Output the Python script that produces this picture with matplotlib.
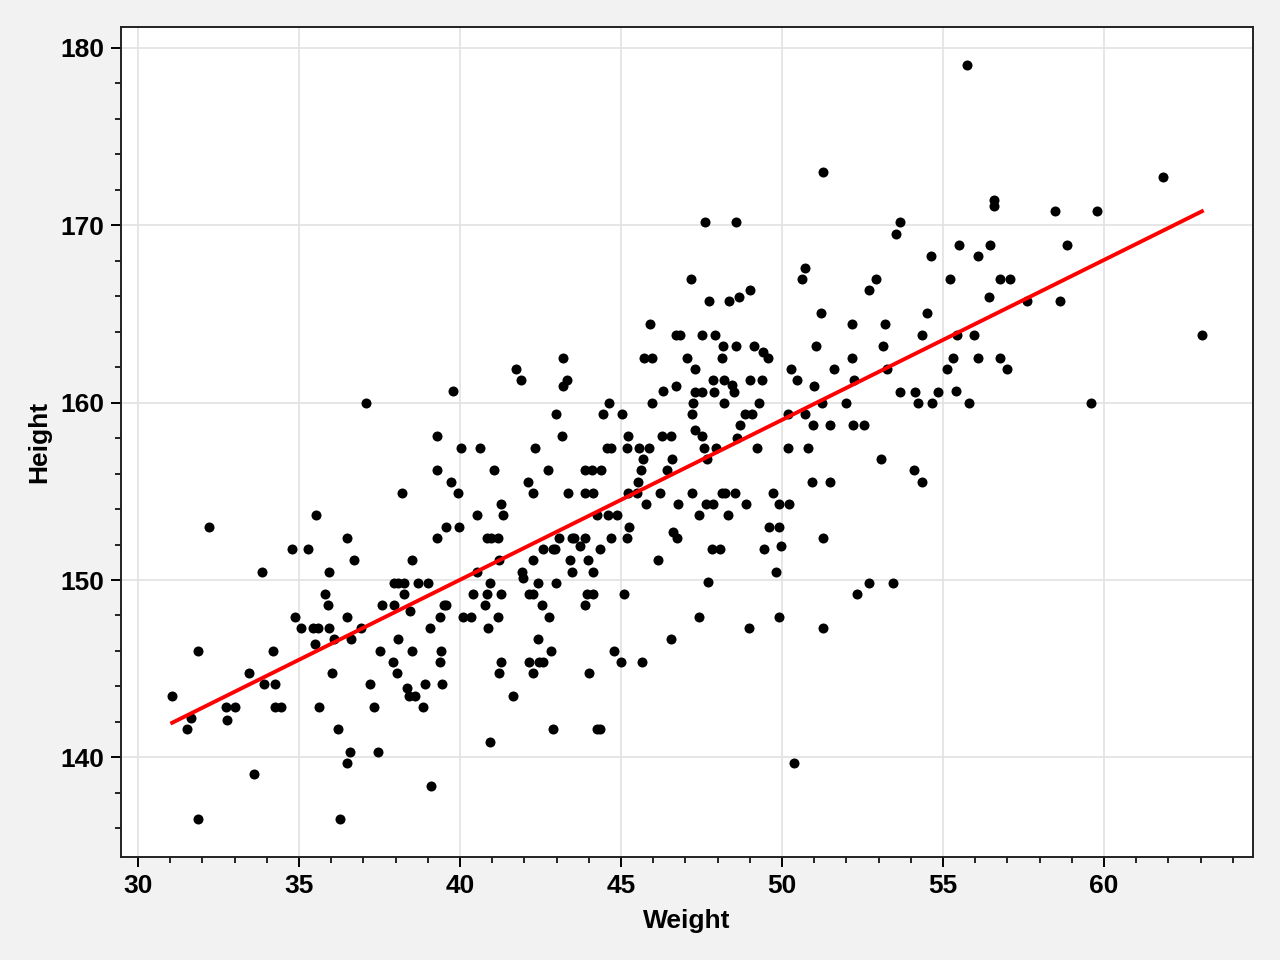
import numpy as np
import matplotlib
matplotlib.use("Agg")
import matplotlib.pyplot as plt
from matplotlib.ticker import MultipleLocator

# adult weight (kg) / height (cm) pairs
weight = [
    31.06, 31.52, 31.65, 31.86, 31.86, 32.20, 32.73, 33.01, 32.76, 33.45,
    33.60, 33.85, 33.91, 34.19, 34.25, 34.25, 34.44, 34.78, 34.88, 35.06,
    35.28, 35.43, 35.53, 35.50, 35.59, 35.62, 35.81, 35.90, 35.93, 35.93,
    36.02, 36.09, 36.21, 36.27, 36.49, 36.49, 36.49, 36.58, 36.61, 36.71,
    36.93, 37.20, 37.33, 37.45, 37.52, 37.58, 37.92, 37.95, 37.95, 38.04,
    38.07, 38.20, 38.26, 38.26, 38.35, 38.42, 38.45, 38.51, 38.51, 38.60,
    38.70, 38.85, 38.91, 39.01, 39.07, 39.10, 38.07, 43.20, 41.74, 41.89,
    43.32, 43.20, 39.78, 45.71, 45.96, 46.71, 46.71, 46.30, 45.96, 44.63,
    44.44, 45.03, 42.98, 43.17, 39.29, 45.22, 46.27, 46.55, 40.03, 40.62,
    42.33, 44.57, 44.69, 45.19, 45.56, 45.87, 45.68, 46.58, 39.29, 41.06,
    42.73, 43.88, 44.10, 44.38, 45.62, 46.43, 39.72, 42.11, 45.53, 39.94,
    42.27, 43.35, 43.88, 44.13, 45.22, 45.50, 46.21, 41.27, 46.77, 45.78,
    40.53, 41.34, 44.25, 44.60, 44.88, 39.57, 39.97, 45.25, 39.29, 40.84,
    40.96, 41.18, 43.07, 43.48, 43.54, 43.88, 44.69, 45.19, 46.61, 46.74,
    42.58, 42.89, 42.95, 43.73, 44.35, 41.21, 42.27, 43.42, 43.98, 46.15,
    40.53, 41.93, 43.48, 44.13, 41.96, 42.42, 42.98, 40.93, 40.40, 40.84,
    41.27, 42.14, 42.27, 43.94, 44.13, 45.09, 39.50, 39.57, 40.78, 42.55,
    43.88, 39.38, 40.09, 40.34, 41.18, 42.76, 40.87, 42.42, 46.55, 39.41,
    42.83, 44.78, 39.38, 41.27, 42.14, 42.45, 42.58, 45.00, 45.65, 41.21,
    42.27, 44.01, 39.44, 41.65, 42.89, 44.25, 44.35, 40.93, 45.90, 37.08,
    47.61, 48.57, 53.66, 53.54, 54.63, 50.71, 50.62, 47.17, 52.92, 52.70,
    49.01, 47.73, 48.35, 48.66, 51.21, 54.50, 52.17, 53.20, 46.83, 47.52,
    47.92, 54.35, 48.17, 48.57, 49.13, 51.06, 53.14, 49.41, 49.57, 47.05,
    48.14, 52.17, 47.30, 50.28, 51.61, 53.26, 50.47, 47.86, 48.20, 48.45,
    48.51, 49.01, 49.38, 50.99, 52.24, 47.30, 47.52, 47.89, 53.66, 54.13,
    54.84, 47.24, 48.20, 49.29, 51.24, 51.99, 54.22, 54.66, 47.20, 48.85,
    49.07, 50.19, 50.71, 47.30, 47.52, 48.70, 50.96, 51.49, 52.20, 52.55,
    48.60, 47.58, 47.95, 49.22, 50.19, 50.81, 47.67, 53.07, 54.10, 54.35,
    50.93, 51.49, 47.20, 48.14, 48.23, 48.54, 49.72, 47.64, 47.86, 48.88,
    49.91, 50.22, 47.42, 48.32, 49.60, 49.91, 51.27, 47.83, 48.07, 49.44,
    49.97, 49.81, 47.70, 52.70, 53.45, 52.33, 47.42, 49.91, 48.98, 51.27,
    50.37, 51.27, 55.75, 61.83, 56.58, 56.58, 58.48, 59.78, 55.50, 56.46,
    58.85, 56.09, 55.22, 56.77, 57.08, 56.43, 57.61, 58.63, 55.43, 55.96,
    63.04, 55.31, 56.09, 56.77, 55.12, 56.99, 55.40, 55.81, 59.60,
]

height = [
    143.45, 141.59, 142.21, 136.51, 145.99, 152.98, 142.83, 142.83, 142.10, 144.75,
    139.05, 150.45, 144.13, 145.99, 144.13, 142.83, 142.83, 151.74, 147.91, 147.29,
    151.74, 147.29, 153.66, 146.38, 147.29, 142.83, 149.20, 148.58, 150.45, 147.29,
    144.75, 146.67, 141.59, 136.51, 152.36, 147.91, 139.67, 140.29, 146.67, 151.12,
    147.29, 144.13, 142.83, 140.29, 145.99, 148.58, 145.37, 148.58, 149.83, 144.75,
    149.83, 154.90, 149.83, 149.20, 143.90, 143.45, 148.25, 151.12, 145.99, 143.45,
    149.83, 142.83, 144.13, 149.83, 147.29, 138.37, 146.67, 162.52, 161.89, 161.27,
    161.27, 160.94, 160.65, 162.52, 162.52, 163.81, 160.94, 160.65, 159.98, 159.98,
    159.36, 159.36, 159.36, 158.12, 158.12, 158.12, 158.12, 158.12, 157.44, 157.44,
    157.44, 157.44, 157.44, 157.44, 157.44, 157.44, 156.82, 156.82, 156.20, 156.20,
    156.20, 156.20, 156.20, 156.20, 156.20, 156.20, 155.52, 155.52, 155.52, 154.90,
    154.90, 154.90, 154.90, 154.90, 154.90, 154.90, 154.90, 154.28, 154.28, 154.28,
    153.66, 153.66, 153.66, 153.66, 153.66, 152.98, 152.98, 152.98, 152.36, 152.36,
    152.36, 152.36, 152.36, 152.36, 152.36, 152.36, 152.36, 152.36, 152.70, 152.36,
    151.74, 151.74, 151.74, 151.91, 151.74, 151.12, 151.12, 151.12, 151.12, 151.12,
    150.45, 150.45, 150.45, 150.45, 150.11, 149.83, 149.83, 149.83, 149.20, 149.20,
    149.20, 149.20, 149.20, 149.20, 149.20, 149.20, 148.58, 148.58, 148.58, 148.58,
    148.58, 147.91, 147.91, 147.91, 147.91, 147.91, 147.29, 146.67, 146.67, 145.99,
    145.99, 145.99, 145.37, 145.37, 145.37, 145.37, 145.37, 145.37, 145.37, 144.75,
    144.75, 144.75, 144.13, 143.45, 141.59, 141.59, 141.59, 140.86, 164.43, 159.98,
    170.19, 170.19, 170.19, 169.51, 168.27, 167.59, 166.97, 166.97, 166.97, 166.35,
    166.35, 165.73, 165.73, 165.96, 165.05, 165.05, 164.43, 164.43, 163.81, 163.81,
    163.81, 163.81, 163.19, 163.19, 163.19, 163.19, 163.19, 162.85, 162.52, 162.52,
    162.52, 162.52, 161.89, 161.89, 161.89, 161.89, 161.27, 161.27, 161.27, 161.00,
    160.60, 161.27, 161.27, 160.94, 161.27, 160.60, 160.60, 160.60, 160.60, 160.60,
    160.60, 159.98, 159.98, 159.98, 159.98, 159.98, 159.98, 159.98, 159.36, 159.36,
    159.36, 159.36, 159.36, 158.45, 158.12, 158.74, 158.74, 158.74, 158.74, 158.74,
    158.00, 157.44, 157.44, 157.44, 157.44, 157.44, 156.82, 156.82, 156.20, 155.52,
    155.52, 155.52, 154.90, 154.90, 154.90, 154.90, 154.90, 154.28, 154.28, 154.28,
    154.28, 154.28, 153.66, 153.66, 152.98, 152.98, 152.36, 151.74, 151.74, 151.74,
    151.91, 150.45, 149.88, 149.83, 149.83, 149.20, 147.91, 147.91, 147.29, 147.29,
    139.67, 173.01, 179.04, 172.72, 171.43, 171.09, 170.81, 170.81, 168.89, 168.89,
    168.89, 168.27, 166.97, 166.97, 166.97, 165.96, 165.73, 165.73, 163.81, 163.81,
    163.81, 162.52, 162.52, 162.52, 161.89, 161.89, 160.65, 159.98, 159.98,
]

x = np.array(weight)
y = np.array(height)
slope, intercept = np.polyfit(x, y, 1)
xfit = np.array([x.min(), x.max()])

plt.rcParams["font.family"] = ["Liberation Sans", "DejaVu Sans"]
plt.rcParams["font.size"] = 9.5

fig = plt.figure(figsize=(6.4, 4.8), dpi=200, facecolor="#f2f2f2")
ax = fig.add_axes([0.0945, 0.107, 0.8845, 0.865])
ax.set_facecolor("white")

ax.scatter(x, y, s=13, color="black", linewidths=0, zorder=3)
ax.plot(xfit, intercept + slope * xfit, color="red", lw=1.4, zorder=4)

ax.set_xlim(29.47, 64.63)
ax.set_ylim(134.37, 181.18)
ax.xaxis.set_major_locator(MultipleLocator(5))
ax.xaxis.set_minor_locator(MultipleLocator(1))
ax.yaxis.set_major_locator(MultipleLocator(10))
ax.yaxis.set_minor_locator(MultipleLocator(2))

ax.grid(True, which="major", color="#e2e2e2", lw=0.6, zorder=0)
ax.set_axisbelow(True)
for sp in ax.spines.values():
    sp.set_linewidth(0.7)
    sp.set_color("#222222")
ax.tick_params(which="major", length=3.6, width=0.7, direction="out", pad=2.5)
ax.tick_params(which="minor", length=2.0, width=0.6, direction="out")
for lab in ax.get_xticklabels() + ax.get_yticklabels():
    lab.set_fontweight("bold")

ax.set_xlabel("Weight", fontweight="bold", labelpad=4)
ax.set_ylabel("Height", fontweight="bold", labelpad=3)

fig.savefig("out.png", dpi=200, facecolor=fig.get_facecolor())
